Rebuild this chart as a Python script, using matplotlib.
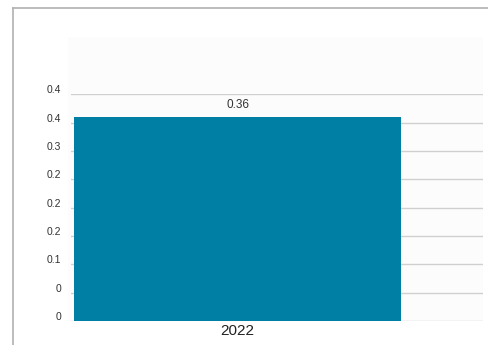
import matplotlib
matplotlib.use("Agg")
import matplotlib.pyplot as plt
import matplotlib.patches as mpatches
import matplotlib.transforms as mtransforms

# ── Data ───────────────────────────────────────────────────────────────────────
categories = ["2022"]
values = [0.36]
y_ticks = [0, 0.05, 0.1, 0.15, 0.2, 0.25, 0.3, 0.35, 0.4]
y_tick_labels = ["0", "0", "0.1", "0.2", "0.2", "0.2", "0.3", "0.4", "0.4"]

BAR_COLOR = "#007fa5"
TEXT_COLOR = "#333333"

plt.rcParams["font.family"] = ["Liberation Sans", "DejaVu Sans"]

W, H = 489, 345
fig = plt.figure(figsize=(W / 100, H / 100), dpi=100)
fig.patch.set_facecolor("white")

# outer frame (left + top border lines)
fig.add_artist(plt.Line2D([13.5 / W, 13.5 / W], [0, 1 - 7.5 / H],
                          transform=fig.transFigure, color="#b0b0b0", lw=1.2))
fig.add_artist(plt.Line2D([13.5 / W, 1], [1 - 7.5 / H, 1 - 7.5 / H],
                          transform=fig.transFigure, color="#b0b0b0", lw=1.2))

# faint plot-area background
fig.add_artist(mpatches.Rectangle((68 / W, 1 - 321 / H), (483 - 68) / W, (321 - 37) / H,
                                  transform=fig.transFigure, facecolor="#fcfcfc",
                                  edgecolor="none", zorder=0))

ax = fig.add_axes([70.7 / W, 1 - 321 / H, (483 - 70.7) / W, (321 - 94.3) / H])
ax.set_facecolor("none")

x = list(range(len(categories)))
bars = ax.bar(x, values, width=1.0, color=BAR_COLOR, zorder=3)

for bar, val in zip(bars, values):
    ax.annotate(f"{val:.2f}", (bar.get_x() + bar.get_width() / 2, bar.get_height()),
                xytext=(0, 4), textcoords="offset points", ha="center", va="bottom",
                fontsize=8.5, color=TEXT_COLOR)

ax.set_xlim(-0.51, 0.75)
ax.set_ylim(0, 0.4)
ax.set_yticks(y_ticks)
ax.set_yticklabels(y_tick_labels, fontsize=7.5, color=TEXT_COLOR)
ax.set_xticks(x)
ax.set_xticklabels(categories, fontsize=11, color="#222222")
ax.tick_params(axis="y", length=0, pad=7)
ax.tick_params(axis="x", length=0, pad=2)

# y labels sit a little above their gridlines
offset = mtransforms.ScaledTranslation(0, 5 / 100, fig.dpi_scale_trans)
for lbl in ax.get_yticklabels():
    lbl.set_transform(lbl.get_transform() + offset)

ax.grid(axis="y", color="#d0d0d0", linewidth=1, zorder=0)
for s in ax.spines.values():
    s.set_visible(False)

fig.savefig("out.png", dpi=100)
